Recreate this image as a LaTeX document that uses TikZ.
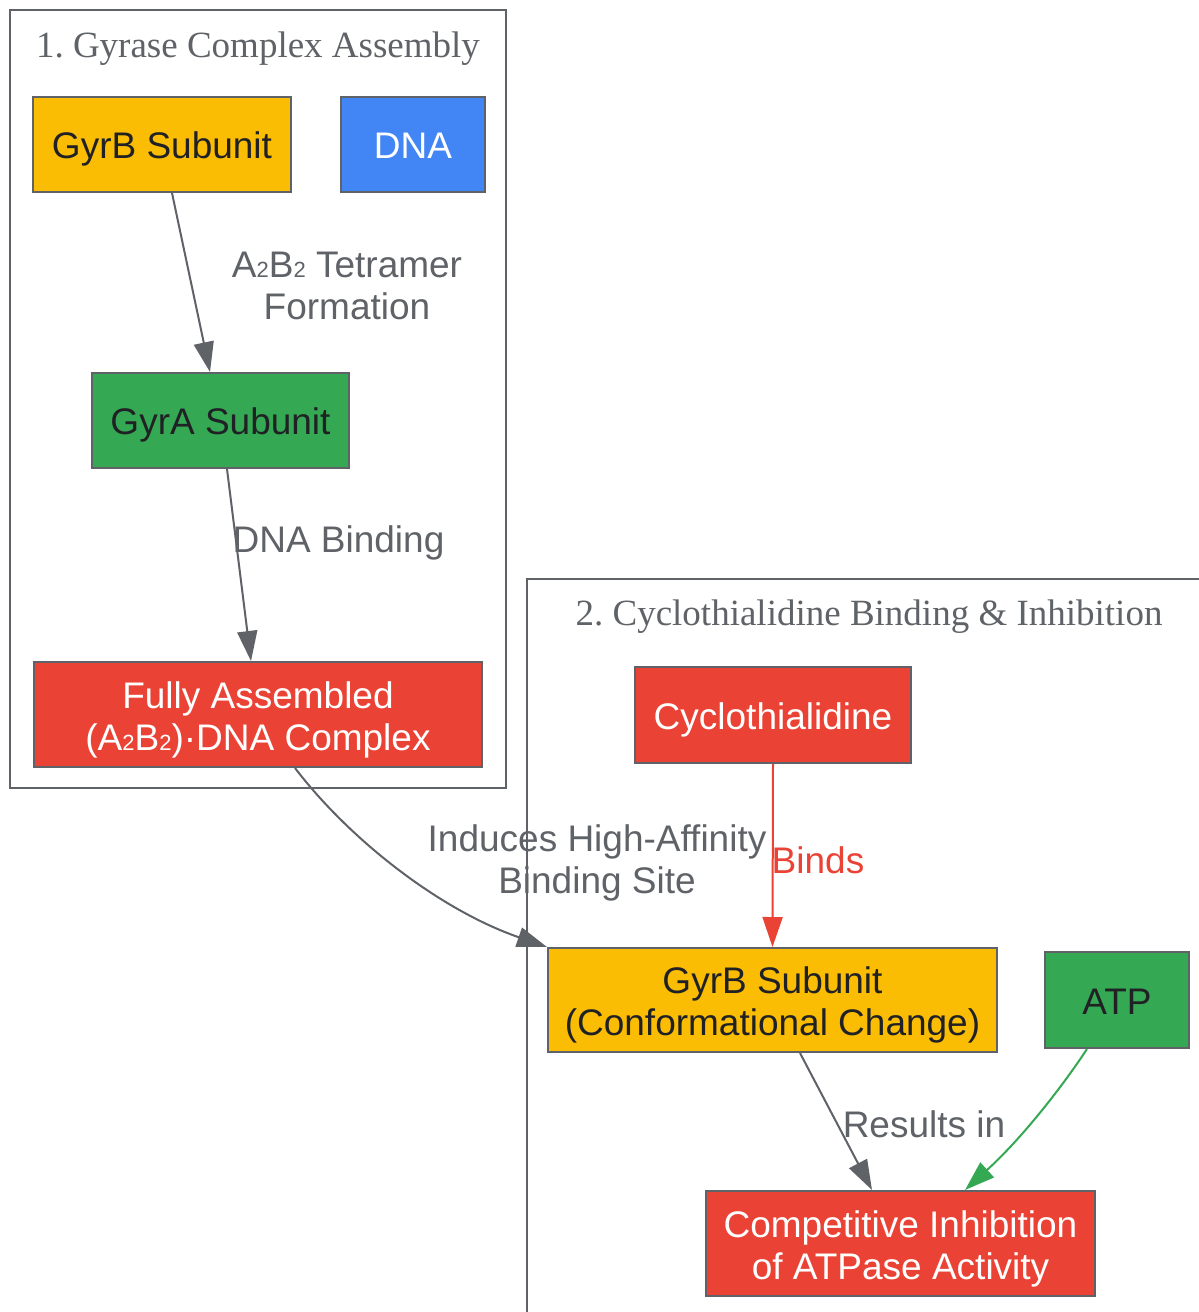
\documentclass[tikz,border=0pt]{standalone}
\usepackage{fontspec}
\setmainfont{Liberation Sans}
\newfontfamily\titlefont{Liberation Serif}
\usetikzlibrary{arrows.meta,calc}
\definecolor{cgray}{HTML}{5F6368}
\definecolor{cdark}{HTML}{202124}
\definecolor{cyellow}{HTML}{FBBC04}
\definecolor{cblue}{HTML}{4285F4}
\definecolor{cgreen}{HTML}{34A853}
\definecolor{cred}{HTML}{EA4335}
\newcommand\subtwo{{\fontsize{22}{22}\selectfont 2}}
\frenchspacing
\begin{document}
\begin{tikzpicture}[x=1pt,y=-1pt,
  box/.style={draw=cgray, line width=2pt, inner sep=0pt, align=center, font=\fontsize{37}{42}\selectfont, text height=31pt, text depth=3pt},
  twoline/.style={text height=74pt, text depth=3pt},
  ybox/.style={box, fill=cyellow, text=cdark},
  bbox/.style={box, fill=cblue, text=white},
  gbox/.style={box, fill=cgreen, text=cdark},
  rbox/.style={box, fill=cred, text=white},
  cluster/.style={draw=cgray, line width=2pt},
  ctitle/.style={anchor=base, inner sep=0pt, text=cgray, font=\titlefont\fontsize{37}{42}\selectfont},
  elabel/.style={inner sep=0pt, align=center, text=cgray, font=\fontsize{37}{42}\selectfont},
  conn/.style={draw=cgray, line width=2pt, -{Triangle[length=30pt,width=20pt]}},
]
\useasboundingbox (0,0) rectangle (1199,1312);
\fill[white] (0,0) rectangle (1199,1312);

% clusters
\draw[cluster] (10,10) rectangle (506,788);
\begin{scope}
\clip (0,0) rectangle (1199,1312);
\draw[cluster] (527,579) rectangle (1220,1330);
\end{scope}
\node[ctitle] (t1) at (258,57) {1. Gyrase Complex Assembly};
\node[ctitle] (t2) at (869,625) {2. Cyclothialidine Binding \& Inhibition};

% nodes
\node[ybox, minimum width=258pt, minimum height=95pt] (gyrb) at (162,144.5) {GyrB Subunit};
\node[bbox, minimum width=144pt, minimum height=95pt] (dna) at (413,144.5) {DNA};
\node[gbox, minimum width=257pt, minimum height=95pt] (gyra) at (220.5,420.5) {GyrA Subunit};
\node[rbox, twoline, minimum width=448pt, minimum height=105pt] (full) at (258,714.5) {Fully Assembled\\(A\subtwo B\subtwo)·DNA Complex};
\node[rbox, minimum width=276pt, minimum height=96pt] (cyc) at (773,715) {Cyclothialidine};
\node[ybox, twoline, minimum width=449pt, minimum height=104pt] (gyrb2) at (772.5,1000) {GyrB Subunit\\(Conformational Change)};
\node[gbox, minimum width=144pt, minimum height=96pt] (atp) at (1117,1000) {ATP};
\node[rbox, twoline, minimum width=389pt, minimum height=105pt] (comp) at (900.5,1243.5) {Competitive Inhibition\\of ATPase Activity};

% edge labels
\node[elabel] (l1) at (347,286) {A\subtwo B\subtwo\ Tetramer\\Formation};
\node[elabel] (l2) at (338.5,543) {DNA Binding};
\node[elabel] (l3) at (597,863) {Induces High-Affinity\\Binding Site};
\node[elabel, text=cred] (l4) at (818,860) {Binds};
\node[elabel] (l5) at (924,1124) {Results in};

% connectors
\draw[conn] ($(gyrb.south)+(10,0)$) -- ($(gyra.north)+(-10.5,0)$);
\draw[conn] ($(gyra.south)+(6.5,0)$) -- ($(full.north)+(-7,0)$);
\draw[conn] ($(full.south)+(37,0)$) .. controls (350,840) and (440,910) .. (gyrb2.north west);
\draw[conn, draw=cred, -{Triangle[length=30pt,width=20pt,fill=cred]}] (cyc.south) -- (gyrb2.north);
\draw[conn] ($(gyrb2.south)+(27.5,0)$) -- ($(comp.north)+(-28.5,0)$);
\draw[conn, draw=cgreen] ($(atp.south)+(-30,0)$) .. controls (1060,1090) and (1020,1140) .. ($(comp.north)+(64.5,0)$);
\end{tikzpicture}
\end{document}
